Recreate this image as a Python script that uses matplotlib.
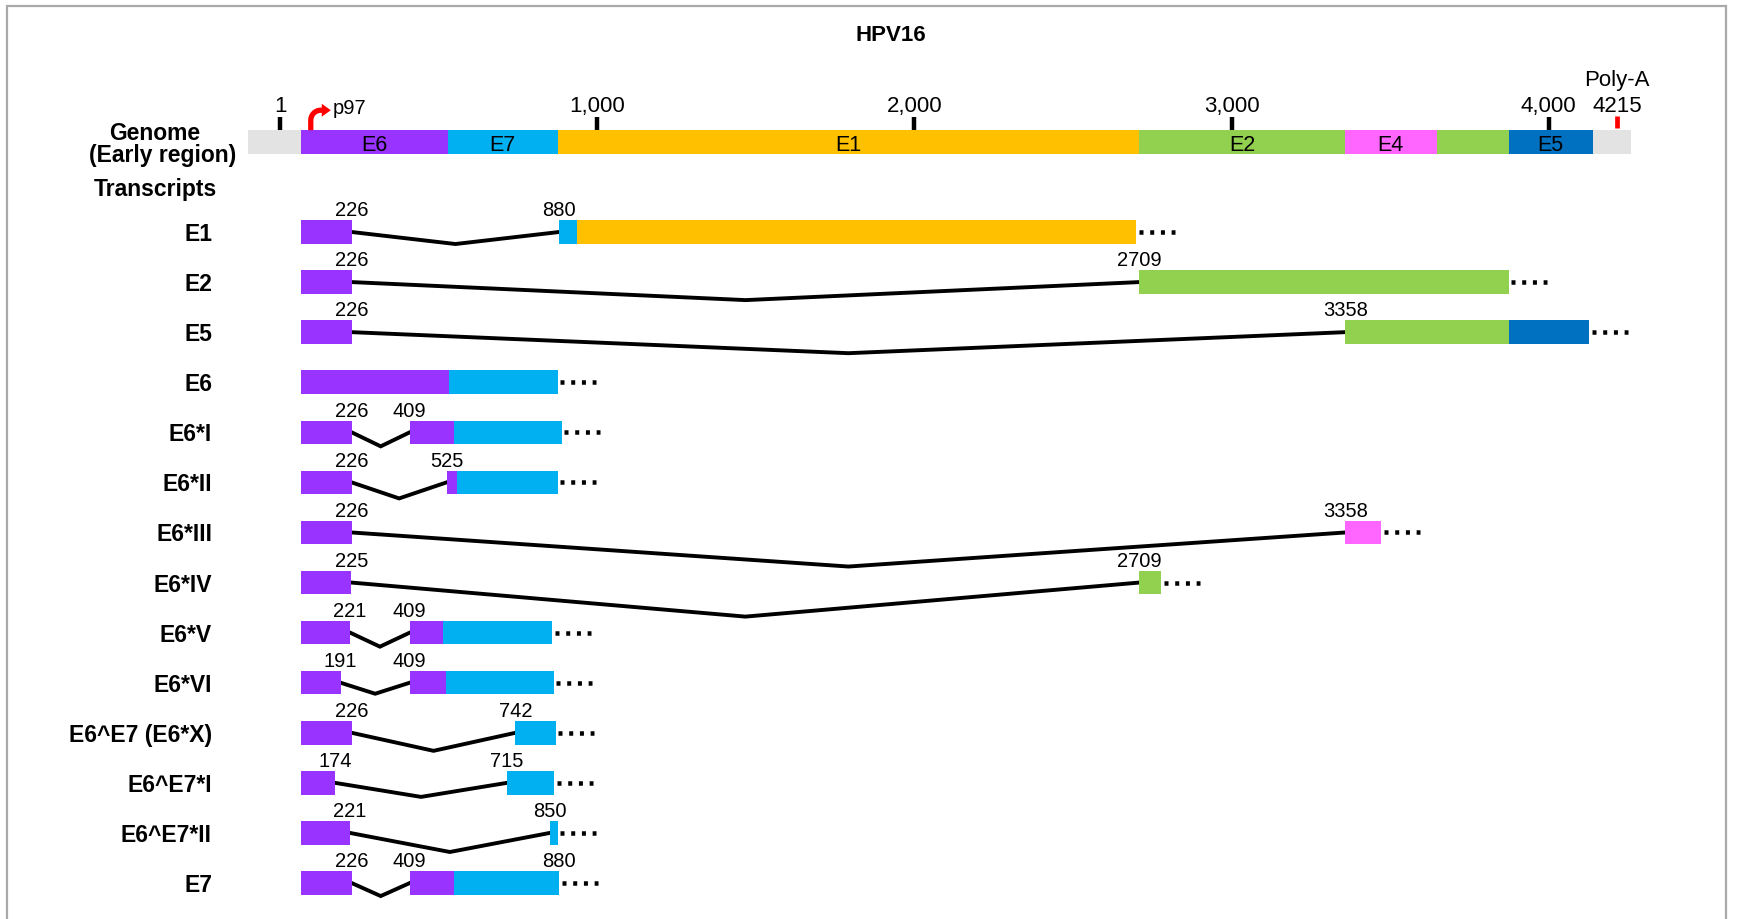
import numpy as np
import matplotlib
matplotlib.use("Agg")
import matplotlib.pyplot as plt
from matplotlib.patches import Rectangle, Polygon
from matplotlib.transforms import blended_transform_factory

plt.rcParams["font.family"] = ["Liberation Sans", "DejaVu Sans"]

# ---------------- genome map of the early region (nt) ----------------
genome_span = [-101, 4259]
gene_names = ["E6", "E7", "E1", "E2", "E4", "E2", "E5"]
gene_starts = [65, 530, 875, 2709, 3358, 3646, 3873]
gene_ends = [530, 875, 2709, 3358, 3646, 3873, 4138]
gene_captions = ["E6", "E7", "E1", "E2", "E4", "", "E5"]
scale_ticks = [1, 1000, 2000, 3000, 4000]
scale_labels = ["1", "1,000", "2,000", "3,000", "4,000"]
promoter_pos = 97
polya_pos = 4215

# ---------------- transcripts ----------------
transcripts = ["E1", "E2", "E5", "E6", "E6*I", "E6*II", "E6*III", "E6*IV",
               "E6*V", "E6*VI", "E6^E7 (E6*X)", "E6^E7*I", "E6^E7*II", "E7"]
tx_start = 65
donor = [226, 226, 226, None, 226, 226, 226, 225, 221, 191, 226, 174, 221, 226]
acceptor = [880, 2709, 3358, None, 409, 525, 3358, 2709, 409, 409, 742, 715, 850, 409]
# reading frame of the last exon: first part, optional switch point, second part
orf_a = ["E7", "E2", "E2", "E6", "E6", "E6", "E4", "E2", "E6", "E6", "E7", "E7", "E7", "E6"]
orf_switch = [935, None, 3873, 532, 548, 559, None, None, 514, 522, None, None, None, 548]
orf_b = ["E1", None, "E5", "E7", "E7", "E7", None, None, "E7", "E7", None, None, None, "E7"]
tx_end = [2700, 3873, 4128, 876, 888, 876, 3471, 2779, 858, 863, 870, 865, 875, 880]
label_end = [False, False, False, False, False, False, False, False,
             False, False, False, False, False, True]

# ---------------- styling ----------------
gene_colors = {"E6": "#9933FF", "E7": "#00B0F0", "E1": "#FFC000",
               "E2": "#92D050", "E4": "#FF66FF", "E5": "#0070C0"}
noncoding = "#E3E3E3"
intron_dip = [0.24, 0.36, 0.42, None, 0.28, 0.32, 0.68, 0.68,
              0.28, 0.22, 0.36, 0.28, 0.38, 0.26]

W, H = 1737, 920
PX_PER_NT = 0.3172
X0_PX = 280.0
ROW_PX = 50.08
ROW0_PX = 233.0
BAR_H = 0.47

FS_LABEL = 16.5   # bold row / section labels
FS_NUM = 14.5     # splice-site numbers
FS_SCALE = 16     # genome scale labels
FS_GENE = 15.5    # gene names inside the genome bar

fig = plt.figure(figsize=(W / 100, H / 100), dpi=100)
ax = fig.add_axes([0, 0, 1, 1])
ax.set_xlim(-X0_PX / PX_PER_NT, (W - X0_PX) / PX_PER_NT)
ax.set_ylim((H - ROW0_PX) / ROW_PX, -ROW0_PX / ROW_PX)
ax.axis("off")


def ypx(p):
    """figure pixel row -> axis row units"""
    return (p - ROW0_PX) / ROW_PX


def dx(px):
    return px / PX_PER_NT


def dy(px):
    return px / ROW_PX


left_tf = blended_transform_factory(fig.transFigure, ax.transData)

# frame
fig.add_artist(Rectangle((7 / W, -0.05), (1726 - 7) / W, 1 - 7 / H + 0.05,
                         transform=fig.transFigure, fill=False,
                         edgecolor="#a9a9a9", lw=1.6))

# title
fig.text(891 / W, 1 - 41 / H, "HPV16", ha="center", va="baseline",
         fontsize=16, fontweight="bold")

# ---------------- genome bar ----------------
gy = ypx(143)
ax.barh(gy, genome_span[1] - genome_span[0], left=genome_span[0],
        height=BAR_H, color=noncoding, zorder=2)
for name, s, e, cap in zip(gene_names, gene_starts, gene_ends, gene_captions):
    ax.barh(gy, e - s, left=s, height=BAR_H, color=gene_colors[name], zorder=2)
    if cap:
        ax.text((s + e) / 2, gy + dy(8), cap, ha="center", va="baseline",
                fontsize=FS_GENE, zorder=3)

bar_top = gy - BAR_H / 2
for t, lab in zip(scale_ticks, scale_labels):
    ax.plot([t, t], [bar_top - dy(13), bar_top], color="black", lw=3.2,
            solid_capstyle="butt", zorder=3)
    ax.text(t, ypx(112), lab, ha="center", va="baseline", fontsize=FS_SCALE)

ax.plot([polya_pos, polya_pos], [ypx(117), ypx(129)], color="red", lw=3.4,
        solid_capstyle="butt", zorder=3)
ax.text(polya_pos, ypx(112), str(polya_pos), ha="center", va="baseline",
        fontsize=FS_SCALE)
ax.text(polya_pos, ypx(86), "Poly-A", ha="center", va="baseline",
        fontsize=FS_SCALE)

# bent promoter arrow: stem up from the bar, rounded corner, head pointing right
rise, radius = 20.0, 10.0
theta = np.linspace(0, np.pi / 2, 20)
shaft_x = np.concatenate([[0, 0], radius - radius * np.cos(theta), [radius + 2]])
shaft_y = np.concatenate([[0, -(rise - radius)],
                          -(rise - radius) - radius * np.sin(theta), [-rise]])
ax.plot(promoter_pos + dx(shaft_x), bar_top + dy(shaft_y), color="red",
        lw=3.8, solid_capstyle="butt", solid_joinstyle="round", zorder=4)
head = np.array([[radius + 1, -rise - 6.5], [radius + 10, -rise],
                 [radius + 1, -rise + 6.5]])
ax.add_patch(Polygon(np.column_stack([promoter_pos + dx(head[:, 0]),
                                      bar_top + dy(head[:, 1])]),
                     closed=True, facecolor="red", edgecolor="none", zorder=4))
ax.text(promoter_pos + dx(22), ypx(114), "p%d" % promoter_pos, ha="left",
        va="baseline", fontsize=FS_NUM)

ax.text(155 / W, ypx(140), "Genome", transform=left_tf, ha="center",
        va="baseline", fontsize=FS_LABEL, fontweight="bold")
ax.text(163 / W, ypx(162), "(Early region)", transform=left_tf, ha="center",
        va="baseline", fontsize=FS_LABEL, fontweight="bold")
ax.text(155 / W, ypx(196), "Transcripts", transform=left_tf, ha="center",
        va="baseline", fontsize=FS_LABEL, fontweight="bold")

# ---------------- transcripts ----------------
num_off = -(BAR_H / 2 + dy(5))
for i, name in enumerate(transcripts):
    y = i
    ax.text(212 / W, y + dy(8), name, transform=left_tf, ha="right",
            va="baseline", fontsize=FS_LABEL, fontweight="bold")

    if donor[i] is not None:
        last_start = acceptor[i]
        ax.barh(y, donor[i] - tx_start, left=tx_start, height=BAR_H,
                color=gene_colors["E6"], zorder=2)
        mid = (donor[i] + acceptor[i]) / 2
        ax.plot([donor[i], mid, acceptor[i]], [y, y + intron_dip[i], y],
                color="black", lw=2.8, solid_joinstyle="miter", zorder=1)
        ax.text(donor[i], y + num_off, str(donor[i]), ha="center",
                va="baseline", fontsize=FS_NUM)
        ax.text(acceptor[i], y + num_off, str(acceptor[i]), ha="center",
                va="baseline", fontsize=FS_NUM)
    else:
        last_start = tx_start

    first_stop = orf_switch[i] if orf_switch[i] is not None else tx_end[i]
    ax.barh(y, first_stop - last_start, left=last_start, height=BAR_H,
            color=gene_colors[orf_a[i]], zorder=2)
    if orf_switch[i] is not None:
        ax.barh(y, tx_end[i] - orf_switch[i], left=orf_switch[i], height=BAR_H,
                color=gene_colors[orf_b[i]], zorder=2)
    if label_end[i]:
        ax.text(tx_end[i], y + num_off, str(tx_end[i]), ha="center",
                va="baseline", fontsize=FS_NUM)

    # open-ended continuation
    ax.plot([tx_end[i] + dx(2.5), tx_end[i] + dx(38.5)], [y, y], color="black",
            lw=3.24, linestyle=(0, (0.89, 1.49)), dash_capstyle="butt", zorder=1)

fig.savefig("out.png", dpi=100)
